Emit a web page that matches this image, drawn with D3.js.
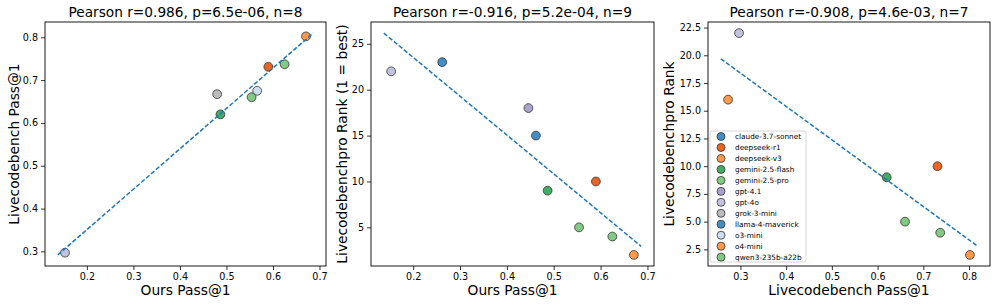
<!DOCTYPE html>
<html>
<head>
    <meta charset="UTF-8">
    <title></title>
    <style>
        body { margin: 0; background: #fff; }
        text { font-family: "DejaVu Sans", sans-serif; fill: #000; }
    </style>
</head>
<body>
<div id="chart"></div>
<script src="https://cdn.jsdelivr.net/npm/d3@7"></script>
<script>
    // models and their colors (same order)
    var models = ["claude-3.7-sonnet", "deepseek-r1", "deepseek-v3", "gemini-2.5-flash", "gemini-2.5-pro",
        "gpt-4.1", "gpt-4o", "grok-3-mini", "llama-4-maverick", "o3-mini", "o4-mini", "qwen3-235b-a22b"];
    var colors = ["#3182bd", "#e6550d", "#fd8d3c", "#31a354", "#74c476",
        "#9e9ac8", "#bcbddc", "#b5b5b5", "#3182bd", "#c6dbef", "#fd8d3c", "#74c476"];

    // values, null = model not in that benchmark
    var oursPass = [0.262, 0.590, null, 0.487, 0.625, 0.446, 0.153, 0.480, 0.462, 0.566, 0.671, 0.554];
    var lcbPass = [null, 0.731, 0.273, 0.620, 0.737, null, 0.297, 0.667, null, 0.675, 0.802, 0.660];
    var proRank = [23, 10, 16, 9, 4, 18, 22, null, 15, null, 2, 5];

    var titles = ["Pearson r=0.986, p=6.5e-06, n=8",
        "Pearson r=-0.916, p=5.2e-04, n=9",
        "Pearson r=-0.908, p=4.6e-03, n=7"];
    var xLabels = ["Ours Pass@1", "Ours Pass@1", "Livecodebench Pass@1"];
    var yLabels = ["Livecodebench Pass@1", "Livecodebenchpro Rank (1 = best)", "Livecodebenchpro Rank"];
    var xTicks = [[0.2, 0.3, 0.4, 0.5, 0.6, 0.7], [0.2, 0.3, 0.4, 0.5, 0.6, 0.7], [0.3, 0.4, 0.5, 0.6, 0.7, 0.8]];
    var yTicks = [[0.3, 0.4, 0.5, 0.6, 0.7, 0.8], [5, 10, 15, 20, 25], [2.5, 5, 7.5, 10, 12.5, 15, 17.5, 20, 22.5]];
    var yFormats = [".1f", "d", ".1f"];

    var width = 997, height = 305;
    var svg = d3.select("#chart").append("svg")
        .attr("width", width).attr("height", height);

    // axes boxes
    var boxes = [
        {x0: 45, x1: 326, y0: 22, y1: 266},
        {x0: 371, x1: 654, y0: 22, y1: 266},
        {x0: 708, x1: 990, y0: 22, y1: 266}
    ];
    var yLabelX = [14, 342, 669];

    var pairs = [[oursPass, lcbPass], [oursPass, proRank], [lcbPass, proRank]];

    function pad(ext) {
        var m = (ext[1] - ext[0]) * 0.05;
        return [ext[0] - m, ext[1] + m];
    }

    pairs.forEach(function (pr, k) {
        var b = boxes[k];
        var pts = [];
        models.forEach(function (m, i) {
            if (pr[0][i] != null && pr[1][i] != null) {
                pts.push({x: pr[0][i], y: pr[1][i], c: colors[i]});
            }
        });

        // least squares fit
        var mx = d3.mean(pts, d => d.x), my = d3.mean(pts, d => d.y);
        var sxy = d3.sum(pts, d => (d.x - mx) * (d.y - my));
        var sxx = d3.sum(pts, d => (d.x - mx) * (d.x - mx));
        var slope = sxy / sxx, icpt = my - slope * mx;
        var xe = d3.extent(pts, d => d.x);
        var span = xe[1] - xe[0];
        var line = [xe[0] - 0.03 * span, xe[1] + 0.03 * span].map(function (x) {
            return {x: x, y: icpt + slope * x};
        });

        var all = pts.concat(line);
        var x = d3.scaleLinear().domain(pad(d3.extent(all, d => d.x))).range([b.x0, b.x1]);
        var y = d3.scaleLinear().domain(pad(d3.extent(all, d => d.y))).range([b.y1, b.y0]);

        var g = svg.append("g");

        g.selectAll("circle").data(pts).join("circle")
            .attr("cx", d => x(d.x)).attr("cy", d => y(d.y)).attr("r", 4.4)
            .attr("fill", d => d.c).attr("fill-opacity", 0.9)
            .attr("stroke", "#333").attr("stroke-width", 0.8);

        g.append("path")
            .attr("d", d3.line().x(d => x(d.x)).y(d => y(d.y))(line))
            .attr("fill", "none").attr("stroke", "#1f77b4")
            .attr("stroke-width", 1.5).attr("stroke-dasharray", "4.5,2");

        var xa = g.append("g").attr("transform", "translate(0," + b.y1 + ")")
            .call(d3.axisBottom(x).tickValues(xTicks[k]).tickFormat(d3.format(".1f")).tickSize(4).tickPadding(3));
        var ya = g.append("g").attr("transform", "translate(" + b.x0 + ",0)")
            .call(d3.axisLeft(y).tickValues(yTicks[k]).tickFormat(d3.format(yFormats[k])).tickSize(4).tickPadding(3));
        [xa, ya].forEach(function (a) {
            a.select(".domain").remove();
            a.selectAll("text").attr("font-size", 9.6).attr("font-family", "DejaVu Sans");
            a.selectAll("line").attr("stroke", "#000").attr("stroke-width", 0.8);
        });

        g.append("rect")
            .attr("x", b.x0).attr("y", b.y0)
            .attr("width", b.x1 - b.x0).attr("height", b.y1 - b.y0)
            .attr("fill", "none").attr("stroke", "#000").attr("stroke-width", 0.9);

        g.append("text")
            .attr("x", (b.x0 + b.x1) / 2).attr("y", 17)
            .attr("text-anchor", "middle").attr("font-size", 13.7)
            .text(titles[k]);
        g.append("text")
            .attr("x", (b.x0 + b.x1) / 2).attr("y", 295)
            .attr("text-anchor", "middle").attr("font-size", 13.8)
            .text(xLabels[k]);
        g.append("text")
            .attr("transform", "translate(" + yLabelX[k] + "," + ((b.y0 + b.y1) / 2) + ") rotate(-90)")
            .attr("dy", "0.35em")
            .attr("text-anchor", "middle").attr("font-size", 13.8)
            .text(yLabels[k]);
    });

    // legend in third panel
    var leg = svg.append("g");
    leg.append("rect")
        .attr("x", 710).attr("y", 131).attr("width", 96).attr("height", 131)
        .attr("rx", 2).attr("fill", "#fff").attr("fill-opacity", 0.8)
        .attr("stroke", "#ccc").attr("stroke-width", 0.8);
    var rows = leg.selectAll("g.row").data(models).join("g")
        .attr("class", "row")
        .attr("transform", (d, i) => "translate(721," + (136.5 + i * 10.97) + ")");
    rows.append("circle").attr("r", 4)
        .attr("fill", (d, i) => colors[i]).attr("fill-opacity", 0.9)
        .attr("stroke", "#333").attr("stroke-width", 0.8);
    rows.append("text").attr("x", 14).attr("dy", "0.35em")
        .attr("font-size", 7.3).text(d => d);
</script>
</body>
</html>
